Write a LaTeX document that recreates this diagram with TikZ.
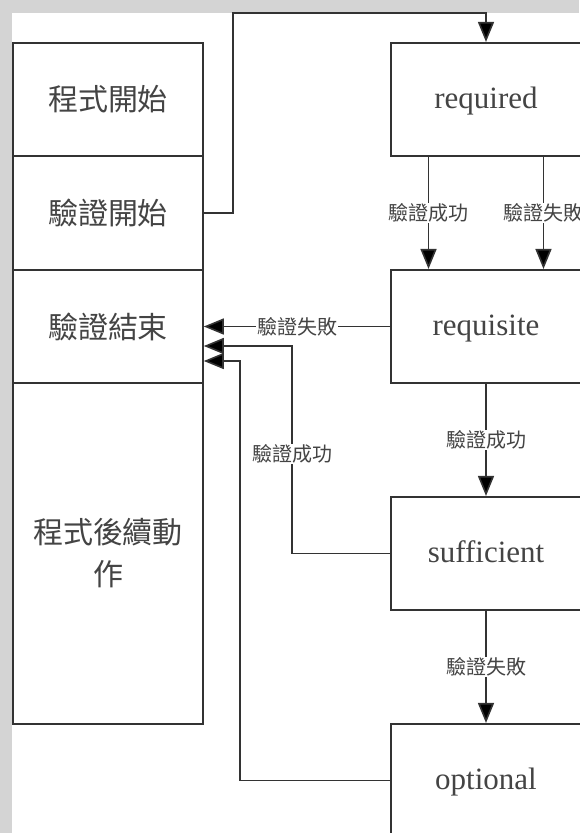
\documentclass[tikz,border=0pt]{standalone}
\usepackage{fontspec}
\setmainfont{Liberation Serif}
\newfontfamily\cjk{Noto Sans CJK TC}
\usetikzlibrary{arrows.meta,calc}
\definecolor{bandgray}{HTML}{D4D4D4}
\definecolor{linegray}{HTML}{333333}
\definecolor{textgray}{HTML}{444444}
\tikzset{
	stage/.style={draw=linegray, line width=1.6pt, fill=white, minimum width=190pt, minimum height=113.5pt, inner sep=0pt, text=textgray, text height=21pt, text depth=4pt, font=\fontsize{31}{40}\selectfont},
	phase/.style={draw=linegray, line width=1.6pt, fill=white, minimum width=190pt, minimum height=113.5pt, inner sep=0pt, text=textgray, font=\cjk\fontsize{30}{42}\selectfont},
	flow/.style={draw=linegray, line width=1.6pt, -{Triangle[length=20pt,width=16pt,fill=black]}},
	verdict/.style={fill=white, inner sep=1pt, text=textgray, font=\cjk\fontsize{20}{24}\selectfont}
}
\begin{document}
\begin{tikzpicture}[x=1pt, y=-1pt]
		\useasboundingbox (0,0) rectangle (579,833);
		\fill[bandgray] (0,0) rectangle (579,833);
		\fill[white] (12,13) rectangle (579,833);
		% left column
		\node[phase] (progstart) at (108,99.5) {程式開始};
		\node[phase] (authstart) at (108,213) {驗證開始};
		\node[phase] (authend) at (108,326.5) {驗證結束};
		\node[phase, minimum height=341pt, align=center] (progrest) at (108,553.5) {程式後續動\\作};
		% control flags
		\node[stage] (required) at (486,99.5) {required};
		\node[stage] (requisite) at (486,326.5) {requisite};
		\node[stage] (sufficient) at (486,553.5) {sufficient};
		\node[stage] (optional) at (486,780.5) {optional};
		\draw[flow] (authstart.east) -- ++(29,0) |- ($(required.north)+(0,-29)$) -- (required.north);
		\draw[flow] ($(required.south west)!0.2!(required.south east)$) -- node[verdict] {驗證成功} ($(requisite.north west)!0.2!(requisite.north east)$);
		\draw[flow] ($(required.south west)!0.8!(required.south east)$) -- node[verdict] {驗證失敗} ($(requisite.north west)!0.8!(requisite.north east)$);
		\draw[flow] (requisite) -- node[verdict] {驗證失敗} (authend);
		\draw[flow] (requisite) -- node[verdict] {驗證成功} (sufficient);
		\draw[flow] (sufficient) -- node[verdict] {驗證失敗} (optional);
		\draw[flow] (sufficient.west) -| node[verdict, pos=0.74] {驗證成功} ++(-98,-207.5) -- ($(authend.east)+(0,19.5)$);
		\draw[flow] (optional.west) -| ++(-150,-419.5) -- ($(authend.east)+(0,34.5)$);
		%\draw (progrest.south) node {end};
\end{tikzpicture}
\end{document}
